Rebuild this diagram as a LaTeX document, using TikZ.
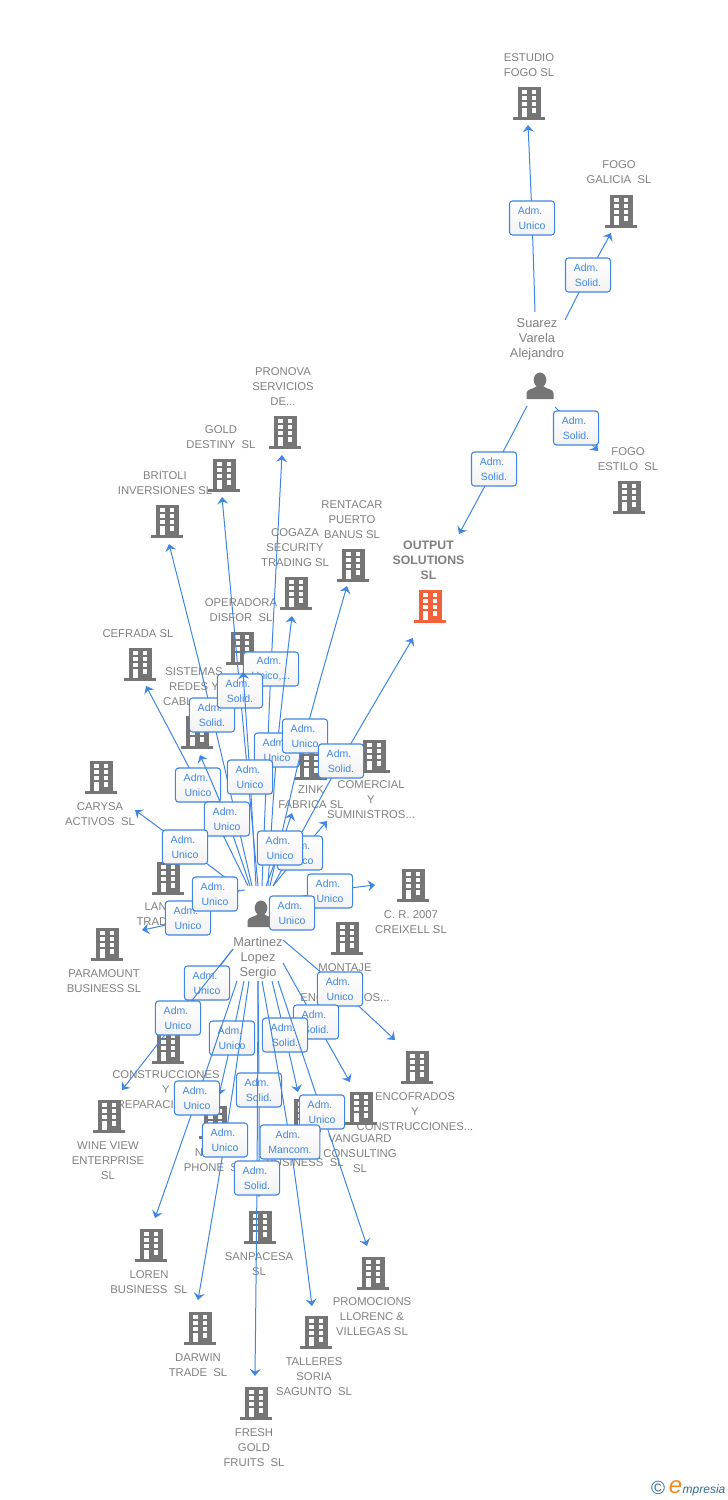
\documentclass[tikz,border=0pt]{standalone}
\usepackage{fontspec}
\setmainfont{Liberation Sans}
\usetikzlibrary{arrows.meta,positioning}
\definecolor{iconGray}{HTML}{757575}
\definecolor{iconOrange}{HTML}{F4613A}
\definecolor{textGray}{HTML}{808080}
\definecolor{relBlue}{HTML}{3F86E4}
\definecolor{logoBlue}{HTML}{2F6F90}
\definecolor{logoOrange}{HTML}{F08A1D}
\newcommand\adm{Adm.\hspace*{4pt}\mbox{}}
\tikzset{
  company/.style={text=textGray,align=center,inner sep=0pt,font=\fontsize{11.3}{15}\selectfont},
  people/.style={company,font=\fontsize{12.8}{15}\selectfont},
  relbox/.style={draw=relBlue,line width=1.1pt,rounded corners=3pt,top color=white,bottom color=black!5,
    text=relBlue,align=center,minimum width=44pt,minimum height=34pt,inner xsep=8.3pt,inner ysep=0pt,
    font=\fontsize{10.5}{15}\selectfont},
  rel/.style={draw=relBlue,line width=1pt,-{Stealth[length=7pt,width=11pt,inset=2.5pt]}},
  building/.pic={
    \fill (-11.5,-16) rectangle (11.5,14);
    \fill (-16,14) rectangle (16,16.5);
    \foreach \wy in {-13,-7,-1}{
      \fill[white] (-7,\wy) rectangle (-2.5,\wy+4);
      \fill[white] (2.5,\wy) rectangle (7,\wy+4);
    }
    \fill[white] (-7,5) rectangle (-2.5,14);
    \fill[white] (2.5,5) rectangle (7,9.5);
  },
  person/.pic={
    \fill (0,-6) ellipse (6.3 and 7.5);
    \fill (-13.5,13) -- (-13.5,7) .. controls (-13.5,3) and (-6,3) .. (-3,0) -- (3,0)
      .. controls (6,3) and (13.5,3) .. (13.5,7) -- (13.5,13) -- cycle;
  }
}
\begin{document}
\begin{tikzpicture}[x=1pt,y=-1pt]
\useasboundingbox (0,0) rectangle (728,1500);

% companies: name / icon x / icon y / label x / label y / label
\foreach \nm/\ix/\iy/\lx/\ly/\txt in {
  estudio/529/103/529/65.5/{ESTUDIO\\FOGO SL},
  galicia/621/211/619/172.5/{FOGO\\GALICIA~ SL},
  estilo/629/497/628/459.5/{FOGO\\ESTILO~ SL},
  pronova/285/432/283/387/{PRONOVA\\SERVICIOS\\DE...},
  gold/224/475/221/437.5/{GOLD\\DESTINY~ SL},
  britoli/167/521/165/483.5/{BRITOLI\\INVERSIONES SL},
  rentacar/353/565/352/520/{RENTACAR\\PUERTO\\BANUS SL},
  cogaza/296/593/295/548/{COGAZA\\SECURITY\\TRADING SL},
  operadora/242/648/241/610.5/{OPERADORA\\DISFOR~ SL},
  cefrada/140/664/138/634/{CEFRADA SL},
  sistemas/197/732/194/687/{SISTEMAS\\REDES Y\\CABL\phantom{EADO}},
  carysa/101/777/100/814.5/{CARYSA\\ACTIVOS~ SL},
  comercial/374/756/371/800/{COMERCIAL\\Y\\SUMINISTROS...},
  zink/311/763/311/797.5/{ZINK\\FABRICA SL},
  land/168/878/167/914.5/{LAN\phantom{XXX}\\TRAD\phantom{XXXX}},
  paramount/107/944/104/981.5/{PARAMOUNT\\BUSINESS SL},
  creixell/413/885/411/922.5/{C. R. 2007\\CREIXELL SL},
  montaje/347/938/345/983/{MONTAJE\\ \\ENCOFRADOS...},
  encofrados/417/1067/415/1112/{ENCOFRADOS\\Y\\CONSTRUCCIONES...},
  construcciones/168/1047/166/1090/{CONSTRUCCIONES\\Y\\REPARACIONES...},
  wine/109/1116/108/1161/{WINE VIEW\\ENTERPRISE\\SL},
  vanguard/361/1108/360/1154/{VANGUARD\\CONSULTING\\SL},
  phone/215/1122/214/1160.5/{N\phantom{XXXX}\\PHONE~ SL},
  business/305/1115/305/1163/{BUSINESS~ SL},
  loren/151/1245/149/1282.5/{LOREN\\BUSINESS~ SL},
  sanpacesa/260/1227/259/1264.5/{SANPACESA\\SL},
  promocions/373/1273/372/1317/{PROMOCIONS\\LLORENC \&\\VILLEGAS SL},
  darwin/200/1328/198/1365.5/{DARWIN\\TRADE~ SL},
  talleres/316/1332/314/1377/{TALLERES\\SORIA\\SAGUNTO~ SL},
  fresh/256/1403/254/1448/{FRESH\\GOLD\\FRUITS~ SL}%
}{
  \coordinate (\nm) at (\ix,\iy);
  \pic[color=iconGray] at (\nm) {building};
  \node[company] (\nm label) at (\lx,\ly) {\txt};
}
\coordinate (output) at (430,606);
\pic[color=iconOrange] at (output) {building};
\node[company,font=\fontsize{12.3}{15}\selectfont\bfseries] (output label) at (428.5,560) {OUTPUT\\SOLUTIONS\\SL};

% people
\coordinate (suarez) at (540,386);
\pic[color=iconGray] at (suarez) {person};
\node[people] (suarez label) at (537,339) {Suarez\\Varela\\Alejandro};
\coordinate (martinez) at (261,914);
\pic[color=iconGray] at (martinez) {person};
\node[people] (martinez label) at (258,958) {Martinez\\Lopez\\Sergio};

% relations: name / start / box / tip / box text
\foreach \nm/\sx/\sy/\bx/\by/\tx/\ty/\txt in {
  restudio/535/312/532/218/528/125/Unico,
  rgalicia/565/320/588/275/611/233/Solid.,
  restilo/555/407/576/428/598/451/Solid.,
  routput/527/406/494/469/459/534/Solid.,
  rbritoli/252/886/212/715/169/544/Solid.,
  rpronova/262/886/271/669/282/455/{Unico,...},
  rgold/258/886/240/691/222/497/Solid.,
  rcogaza/268/886/277/750/292/616/Unico,
  roperadora/256/886/250/777/243/672/Unico,
  rrentacar/270/886/305/736/347/586/Unico,
  routputm/273/886/341/761/413/638/Solid.,
  rcefrada/248/886/198/785/146/686/Unico,
  rsistemas/250/886/227/819/200/755/Unico,
  rcarysa/235/885/185/847/135/810/Unico,
  rcomercial/273/886/300/853/327/821/Unico,
  rzink/266/886/280/848/292/813/Unico,
  rparamount/240/890/188/918/142/930/Unico,
  rland/245/890/215/894/197/899/Unico,
  rcreixell/275/902/330/891/375/885/Unico,
  rmontaje/272/908/292/913/310/925/Unico,
  rconstrucciones/233/949/207/983/187/1008/Unico,
  rwine/233/949/178/1018/122/1090/Unico,
  rphone/244/981/232/1038/219/1095/Unico,
  rloren/237/981/197/1098/155/1218/Unico,
  rdarwin/249/981/225/1140/198/1300/Unico,
  rsanpacesa/258/981/259/1090/259/1197/Solid.,
  rencofrados/283/940/340/989/395/1040/Unico,
  rvanguard/283/963/316/1022/350/1082/Solid.,
  rbusiness/272/981/285/1035/298/1092/Solid.,
  rpromocions/278/981/322/1112/367/1246/Unico,
  rtalleres/262/981/290/1142/312/1306/Mancom.,
  rfresh/258/981/257/1178/255/1376/Solid.%
}{
  \coordinate (\nm s) at (\sx,\sy);
  \coordinate (\nm m) at (\bx,\by);
  \coordinate (\nm t) at (\tx,\ty);
  \draw[rel] plot[smooth,tension=.6] coordinates {(\nm s) (\nm m) (\nm t)};
  \node[relbox] (\nm) at (\nm m) {\adm\\\txt};
}

% logo
\node[inner sep=0pt,text=logoBlue,font=\fontsize{19}{19}\selectfont] (logoc) at (658,1488) {©};
\node[inner sep=0pt,text=logoBlue,font=\fontsize{12}{12}\selectfont\itshape,anchor=base west] (logot) at (682.5,1493) {mpresia};
\node[inner sep=0pt,text=logoOrange,font=\fontsize{24}{24}\selectfont\itshape,anchor=base east] (logoe) at (logot.base west) {e};
\end{tikzpicture}
\end{document}
